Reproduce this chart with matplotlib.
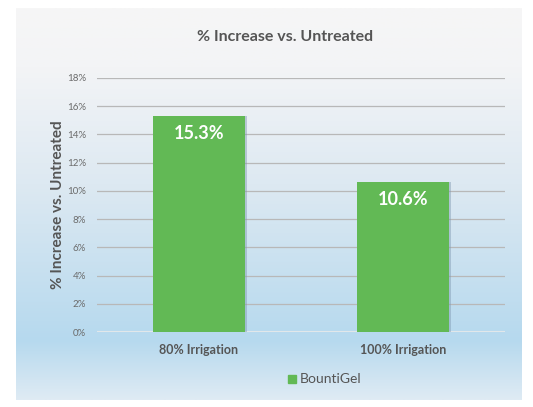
import numpy as np
import matplotlib.pyplot as plt
from matplotlib.colors import LinearSegmentedColormap
from matplotlib.patches import Rectangle

categories = ['80% Irrigation', '100% Irrigation']
values = [15.3, 10.6]
bar_labels = ['15.3%', '10.6%']
series_name = 'BountiGel'
yticks = [0, 2, 4, 6, 8, 10, 12, 14, 16, 18]

plt.rcParams['font.family'] = ['Lato', 'DejaVu Sans']

W, H = 533, 407
fig = plt.figure(figsize=(W / 100, H / 100), dpi=100)
fig.patch.set_facecolor('white')

# gradient panel behind the chart
bg = fig.add_axes([16 / W, 1 - 400 / H, (522 - 16) / W, (400 - 8) / H])
bg.set_axis_off()
cmap = LinearSegmentedColormap.from_list(
    'bg', [(0.0, '#f6f6f6'), (0.15, '#f3f4f6'), (0.45, '#dde9f2'),
           (0.85, '#b6d9ee'), (1.0, '#dfebf4')])
grad = np.linspace(0, 1, 256).reshape(-1, 1)
bg.imshow(grad, aspect='auto', cmap=cmap, extent=[0, 1, 0, 1], origin='upper')
bg.set_xlim(0, 1)
bg.set_ylim(0, 1)

ax = fig.add_axes([97 / W, 1 - 332 / H, (505 - 97) / W, (332 - 78) / H])
ax.patch.set_alpha(0)
x = np.arange(len(categories))

# soft shadow to the right of each bar
for xi, v in zip(x, values):
    ax.add_patch(Rectangle((xi - 0.225 + 0.012, 0), 0.45, v, color='#7f98b0',
                           alpha=0.45, zorder=2, linewidth=0))
ax.bar(x, values, width=0.45, color='#62b955', zorder=3)

for xi, v, lab in zip(x, values, bar_labels):
    ax.text(xi, v - 0.6, lab, ha='center', va='top', color='white',
            fontsize=13, fontweight='bold', zorder=4)

ax.set_xlim(-0.5, 1.5)
ax.set_ylim(0, 18)
ax.set_yticks(yticks)
ax.set_yticklabels([f'{t}%' for t in yticks], fontsize=7, color='#6b6b6b')
ax.set_xticks(x)
ax.set_xticklabels(categories, fontsize=9, fontweight='bold', color='#555555')
ax.tick_params(length=0, pad=8)
ax.tick_params(axis='x', pad=9)
ax.grid(axis='y', color='#b8b8b8', linewidth=0.9, zorder=0)
ax.axhline(0, color='#e8eef2', linewidth=1.5, zorder=1)
for s in ax.spines.values():
    s.set_visible(False)

ax.set_ylabel('% Increase vs. Untreated', fontsize=11, fontweight='bold',
              color='#555555', labelpad=1)

fig.text(285 / W, 1 - 37 / H, '% Increase vs. Untreated', ha='center',
         va='center', fontsize=11.5, fontweight='bold', color='#555555')

# legend
fig.patches.append(Rectangle((288 / W, 1 - 383 / H), 8 / W, 8 / H,
                             transform=fig.transFigure, color='#62b955'))
fig.text(300 / W, 1 - 379 / H, series_name, ha='left', va='center',
         fontsize=10, color='#555555')

fig.savefig('out.png', dpi=100)
